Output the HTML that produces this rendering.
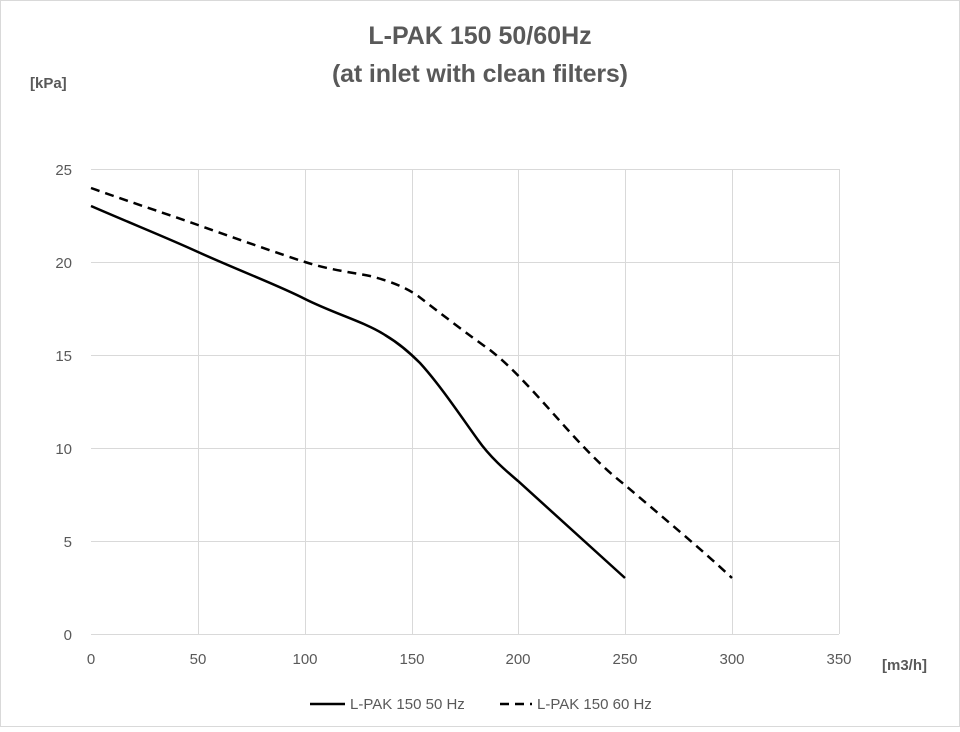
<!DOCTYPE html>
<html><head><style>
body{margin:0;background:#fff;}
svg text{font-family:"Liberation Sans",sans-serif;fill:#595959;}
</style></head><body>
<svg width="960" height="727" xmlns="http://www.w3.org/2000/svg">
<rect x="0.5" y="0.5" width="959" height="726" fill="#fff" stroke="#d9d9d9"/>
<text x="480" y="44" font-size="25" font-weight="bold" text-anchor="middle">L-PAK 150 50/60Hz</text>
<text x="480" y="82" font-size="25" font-weight="bold" text-anchor="middle" textLength="296">(at inlet with clean filters)</text>
<text x="30" y="88" font-size="15" font-weight="bold">[kPa]</text>
<text x="882" y="670" font-size="15" font-weight="bold">[m3/h]</text>
<g stroke="#d9d9d9" stroke-width="1">
<line x1="91" y1="169.5" x2="839" y2="169.5"/>
<line x1="91" y1="262.5" x2="839" y2="262.5"/>
<line x1="91" y1="355.5" x2="839" y2="355.5"/>
<line x1="91" y1="448.5" x2="839" y2="448.5"/>
<line x1="91" y1="541.5" x2="839" y2="541.5"/>
<line x1="198.5" y1="169" x2="198.5" y2="634"/>
<line x1="305.5" y1="169" x2="305.5" y2="634"/>
<line x1="412.5" y1="169" x2="412.5" y2="634"/>
<line x1="518.5" y1="169" x2="518.5" y2="634"/>
<line x1="625.5" y1="169" x2="625.5" y2="634"/>
<line x1="732.5" y1="169" x2="732.5" y2="634"/>
<line x1="839.5" y1="169" x2="839.5" y2="634"/>
<line x1="91" y1="634.5" x2="839" y2="634.5"/>
</g>
<g font-size="15" text-anchor="end">
<text x="72" y="175">25</text><text x="72" y="268">20</text><text x="72" y="361">15</text>
<text x="72" y="454">10</text><text x="72" y="547">5</text><text x="72" y="640">0</text>
</g>
<g font-size="15" text-anchor="middle">
<text x="91" y="664">0</text><text x="198" y="664">50</text><text x="305" y="664">100</text>
<text x="412" y="664">150</text><text x="518" y="664">200</text><text x="625" y="664">250</text>
<text x="732" y="664">300</text><text x="839" y="664">350</text>
</g>
<path d="M91,206 C130,223 170,239 198,252 C240,271 280,286 305,299 C335,314 365,322 385,335 C400,344 410,353 420,363 C440,385 460,415 478,440 C490,457 505,470 518,481 L625,578" fill="none" stroke="#000" stroke-width="2.5"/>
<path d="M91,188 C130,202 170,215 198,225 C240,240 280,254 305,262 C330,270 350,272 370,276 C390,281 405,287 418,296 C440,313 470,336 490,350 C505,362 515,372 530,388 C560,420 590,458 625,485 C660,515 700,548 732,578" fill="none" stroke="#000" stroke-width="2.5" stroke-dasharray="9,6"/>
<line x1="310" y1="704" x2="345" y2="704" stroke="#000" stroke-width="2.5"/>
<text x="350" y="709" font-size="15">L-PAK 150 50 Hz</text>
<line x1="500" y1="704" x2="532" y2="704" stroke="#000" stroke-width="2.5" stroke-dasharray="9,6"/>
<text x="537" y="709" font-size="15">L-PAK 150 60 Hz</text>
</svg>
</body></html>
